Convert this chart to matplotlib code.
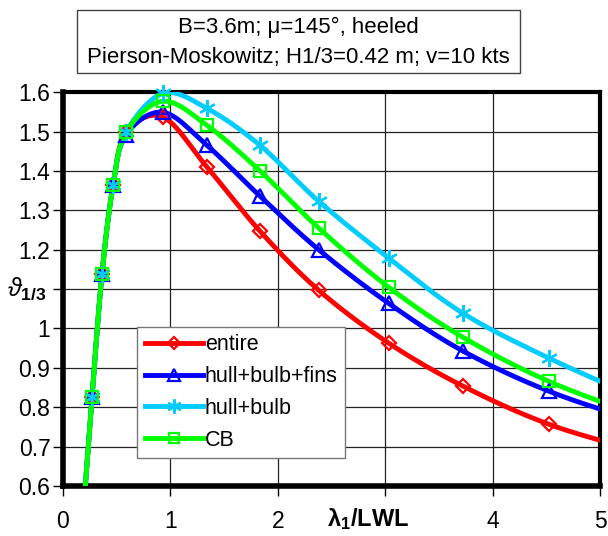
import numpy as np
import matplotlib.pyplot as plt
from matplotlib.patches import Rectangle
from matplotlib.lines import Line2D

plt.rcParams['font.family'] = ['Liberation Sans', 'DejaVu Sans']
plt.rcParams['mathtext.fontset'] = 'custom'
plt.rcParams['mathtext.rm'] = 'Liberation Sans'
plt.rcParams['mathtext.it'] = 'Liberation Sans:italic'
plt.rcParams['mathtext.bf'] = 'Liberation Sans:bold'

# wave length ratio; first and last points lie outside the plotted window
x_ratio = [0.18, 0.27, 0.363, 0.466, 0.587, 0.93, 1.34, 1.834, 2.38, 3.03, 3.72, 4.52, 5.4]

entire = [0.50, 0.826, 1.138, 1.364, 1.498, 1.537, 1.410, 1.247, 1.097, 0.963, 0.854, 0.757, 0.685]
hull_bulb_fins = [0.50, 0.826, 1.138, 1.364, 1.492, 1.549, 1.465, 1.336, 1.200, 1.064, 0.943, 0.841, 0.760]
hull_bulb = [0.50, 0.826, 1.138, 1.364, 1.498, 1.597, 1.559, 1.465, 1.323, 1.179, 1.039, 0.925, 0.818]
cb = [0.50, 0.826, 1.138, 1.364, 1.498, 1.577, 1.516, 1.400, 1.255, 1.105, 0.978, 0.866, 0.775]

# name, values, colour, marker, marker size
series = [
    ("entire", entire, "#ff0000", "D", 7),
    ("hull+bulb+fins", hull_bulb_fins, "#0000ff", "^", 10),
    ("hull+bulb", hull_bulb, "#00ccff", (6, 2, 0), 12),
    ("CB", cb, "#00ff00", "s", 9),
]

x_ticks = [0, 1, 2, 3, 4, 5]
y_ticks = [0.6, 0.7, 0.8, 0.9, 1.0, 1.1, 1.2, 1.3, 1.4, 1.5, 1.6]
y_tick_labels = ["0.6", "0.7", "0.8", "0.9", "1", "", "1.2", "1.3", "1.4", "1.5", "1.6"]
x_tick_labels = ["0", "1", "2", "", "4", "5"]


def smooth(xs, ys, n=24):
    """Catmull-Rom curve through the points, like a spreadsheet smoothed line."""
    p = np.column_stack([xs, ys]).astype(float)
    p = np.vstack([2 * p[0] - p[1], p, 2 * p[-1] - p[-2]])
    t = np.linspace(0, 1, n, endpoint=False)[:, None]
    out = []
    for i in range(1, len(p) - 2):
        p0, p1, p2, p3 = p[i - 1], p[i], p[i + 1], p[i + 2]
        seg = 0.5 * ((2 * p1) + (-p0 + p2) * t
                     + (2 * p0 - 5 * p1 + 4 * p2 - p3) * t ** 2
                     + (-p0 + 3 * p1 - 3 * p2 + p3) * t ** 3)
        out.append(seg)
    out.append(p[-2][None, :])
    out = np.vstack(out)
    return out[:, 0], out[:, 1]


fig = plt.figure(figsize=(6.08, 5.36), dpi=100)
ax = fig.add_axes([0.1036, 0.0933, 0.8836, 0.7347])

for label, vals, color, marker, ms in series:
    sx, sy = smooth(x_ratio, vals)
    ax.plot(sx, sy, color=color, lw=3.5, solid_capstyle='round', zorder=3)

for label, vals, color, marker, ms in series:
    ax.plot(x_ratio[1:-1], vals[1:-1], ls='none', marker=marker, ms=ms,
            mfc='none', mec=color, mew=1.6, clip_on=False, zorder=4)

ax.set_xlim(0, 5)
ax.set_ylim(0.6, 1.6)
ax.set_xticks(x_ticks)
ax.set_xticklabels(x_tick_labels)
ax.set_yticks(y_ticks)
ax.set_yticklabels(y_tick_labels)
ax.tick_params(direction='out', length=7, width=1, labelsize=16.5, pad=2)
ax.tick_params(axis='x', pad=10)
ax.grid(True, color='#222222', lw=0.9)
ax.set_axisbelow(True)
for side in ['left', 'bottom']:
    ax.spines[side].set_linewidth(4)
for side in ['top', 'right']:
    ax.spines[side].set_linewidth(3)

# axis names sit in place of the 3 and 1.1 tick labels
ax.text(2.84, -0.083, r'$\mathbf{\lambda_1/LWL}$', transform=ax.get_xaxis_transform(),
        ha='center', va='center', fontsize=17)
ax.text(-0.105, 1.1, r'$\vartheta_\mathbf{1/3}$', transform=ax.get_yaxis_transform(),
        ha='left', va='center', fontsize=18)

leg_handles = [Line2D([], [], color=c, lw=3.5, marker=m, ms=s * 0.85, mfc='none', mec=c, mew=1.6)
               for _, _, c, m, s in series]
leg = ax.legend(leg_handles, [s[0] for s in series], loc='upper left',
                bbox_to_anchor=(0.138, 0.404), fontsize=15.5, frameon=True,
                fancybox=False, edgecolor='#777777', framealpha=1,
                handlelength=2.7, handletextpad=0.1, borderpad=0.35,
                labelspacing=0.5, borderaxespad=0)
leg.get_frame().set_linewidth(1.0)
leg.set_zorder(5)

# title box
fig.patches.append(Rectangle((77 / 608, 1 - 73 / 536), (520 - 77) / 608, 63 / 536,
                             transform=fig.transFigure, fill=False, ec='#444444', lw=1.0))
fig.text(298 / 608, 1 - 27 / 536, "B=3.6m; μ=145°, heeled", ha='center', va='center', fontsize=16)
fig.text(298 / 608, 1 - 57 / 536, "Pierson-Moskowitz; H1/3=0.42 m; v=10 kts",
         ha='center', va='center', fontsize=16)

fig.savefig("out.png", dpi=100)
